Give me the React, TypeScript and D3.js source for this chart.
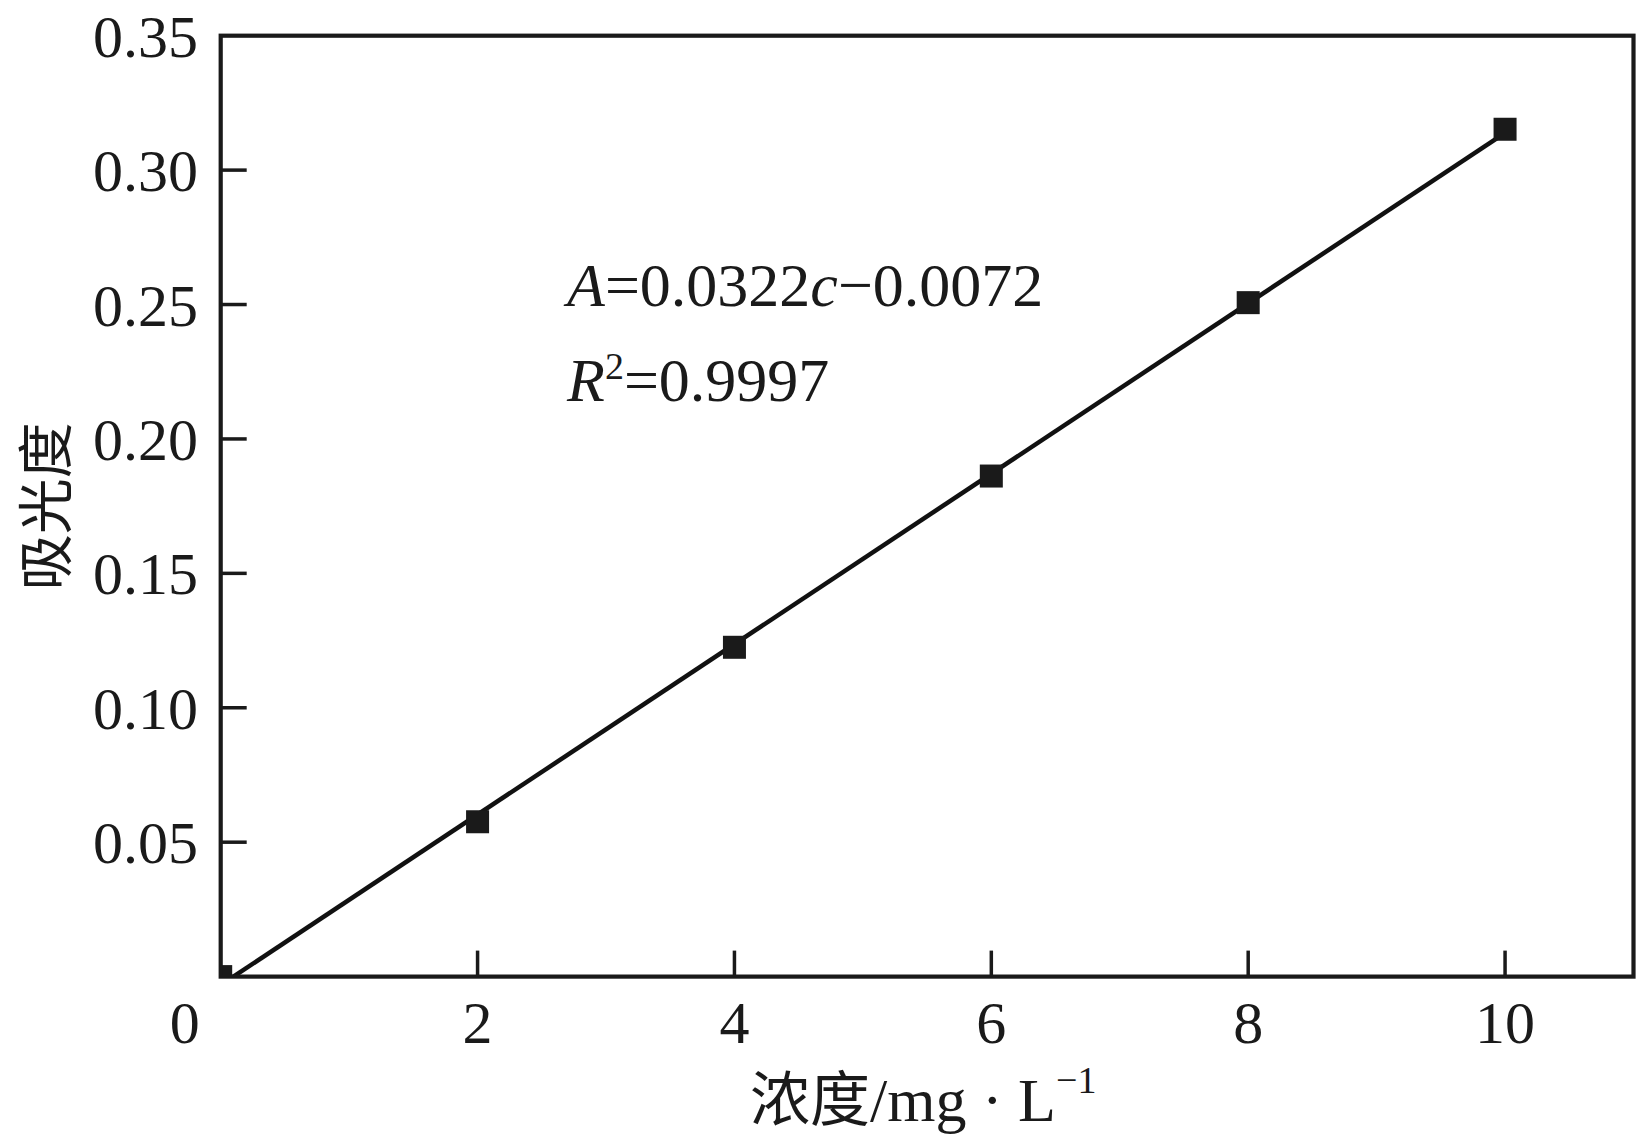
import React from "react";
import * as d3 from "d3";

const concentrations = [0, 2, 4, 6, 8, 10];
const absorbances = [0.0, 0.0576, 0.1225, 0.1862, 0.2507, 0.3152];
const xTicks = [2, 4, 6, 8, 10];
const yTicks = [0.05, 0.1, 0.15, 0.2, 0.25, 0.3, 0.35];
const equationText = ["A", "=0.0322", "c", "−0.0072"];
const r2Text = "=0.9997";
const fitRange = [0, 10];

const W = 1648;
const H = 1141;
const M = { left: 220.7, right: 1633.5, top: 35.7, bottom: 976.6 };
const SERIF = "'Liberation Serif', 'Times New Roman', serif";
const CJK = "'Noto Sans CJK SC', sans-serif";

function leastSquares(xs: number[], ys: number[]) {
  const mx = d3.mean(xs) as number;
  const my = d3.mean(ys) as number;
  let sxy = 0;
  let sxx = 0;
  xs.forEach((v, i) => {
    sxy += (v - mx) * (ys[i] - my);
    sxx += (v - mx) * (v - mx);
  });
  const b = sxy / sxx;
  return { slope: b, intercept: my - b * mx };
}

export default function App() {
  const x = d3.scaleLinear().domain([0, 11]).range([M.left, M.right]);
  const y = d3.scaleLinear().domain([0, 0.35]).range([M.bottom, M.top]);
  const fit = leastSquares(concentrations, absorbances);
  const fitLine = d3
    .line<number>()
    .x((c) => x(c))
    .y((c) => y(fit.slope * c + fit.intercept));
  const sq = 23;
  return (
    <svg
      width={W}
      height={H}
      style={{ position: "absolute", left: 0, top: 0, background: "#fff" }}
    >
      <defs>
        <clipPath id="plotClip">
          <rect x={M.left} y={M.top} width={M.right - M.left} height={M.bottom - M.top} />
        </clipPath>
      </defs>
      <rect x={0} y={0} width={W} height={H} fill="#fff" />
      <g clipPath="url(#plotClip)">
        <path d={fitLine(fitRange) || ""} stroke="#111" strokeWidth={4.5} fill="none" />
        {concentrations.map((c, i) => (
          <rect
            key={i}
            x={x(c) - sq / 2}
            y={y(absorbances[i]) - sq / 2}
            width={sq}
            height={sq}
            fill="#1a1a1a"
          />
        ))}
      </g>
      <rect
        x={M.left}
        y={M.top}
        width={M.right - M.left}
        height={M.bottom - M.top}
        fill="none"
        stroke="#1a1a1a"
        strokeWidth={4.2}
      />
      {xTicks.map((t) => (
        <g key={"x" + t}>
          <line x1={x(t)} x2={x(t)} y1={M.bottom} y2={M.bottom - 26} stroke="#1a1a1a" strokeWidth={3.5} />
          <text x={x(t)} y={1043} textAnchor="middle" fontFamily={SERIF} fontSize={60} fill="#1a1a1a">
            {t}
          </text>
        </g>
      ))}
      <text x={x(0) - 36} y={1043} textAnchor="middle" fontFamily={SERIF} fontSize={60} fill="#1a1a1a">
        0
      </text>
      {yTicks.map((t) => (
        <g key={"y" + t}>
          {t < 0.35 && (
            <line x1={M.left} x2={M.left + 26} y1={y(t)} y2={y(t)} stroke="#1a1a1a" strokeWidth={3.5} />
          )}
          <text
            x={198}
            y={y(t)}
            dy="0.35em"
            textAnchor="end"
            fontFamily={SERIF}
            fontSize={60}
            fill="#1a1a1a"
          >
            {t.toFixed(2)}
          </text>
        </g>
      ))}
      <text x={567} y={306} fontFamily={SERIF} fontSize={62} fill="#1a1a1a">
        <tspan fontStyle="italic">{equationText[0]}</tspan>
        <tspan>{equationText[1]}</tspan>
        <tspan fontStyle="italic">{equationText[2]}</tspan>
        <tspan>{equationText[3]}</tspan>
      </text>
      <text x={567} y={401} fontFamily={SERIF} fontSize={62} fill="#1a1a1a">
        <tspan fontStyle="italic">R</tspan>
        <tspan fontSize={38} dy={-22}>2</tspan>
        <tspan dy={22}>{r2Text}</tspan>
      </text>
      <text x={750} y={1121} fontSize={60} fill="#1a1a1a">
        <tspan fontFamily={CJK}>浓度</tspan>
        <tspan fontFamily={SERIF} fontSize={62}>/mg · L</tspan>
        <tspan fontFamily={SERIF} fontSize={38} dy={-28}>−1</tspan>
      </text>
      <text
        transform={`translate(41, ${y(0.175)}) rotate(-90)`}
        textAnchor="middle"
        dominantBaseline="central"
        fontFamily={CJK}
        fontSize={56}
        fill="#1a1a1a"
      >
        吸光度
      </text>
    </svg>
  );
}
